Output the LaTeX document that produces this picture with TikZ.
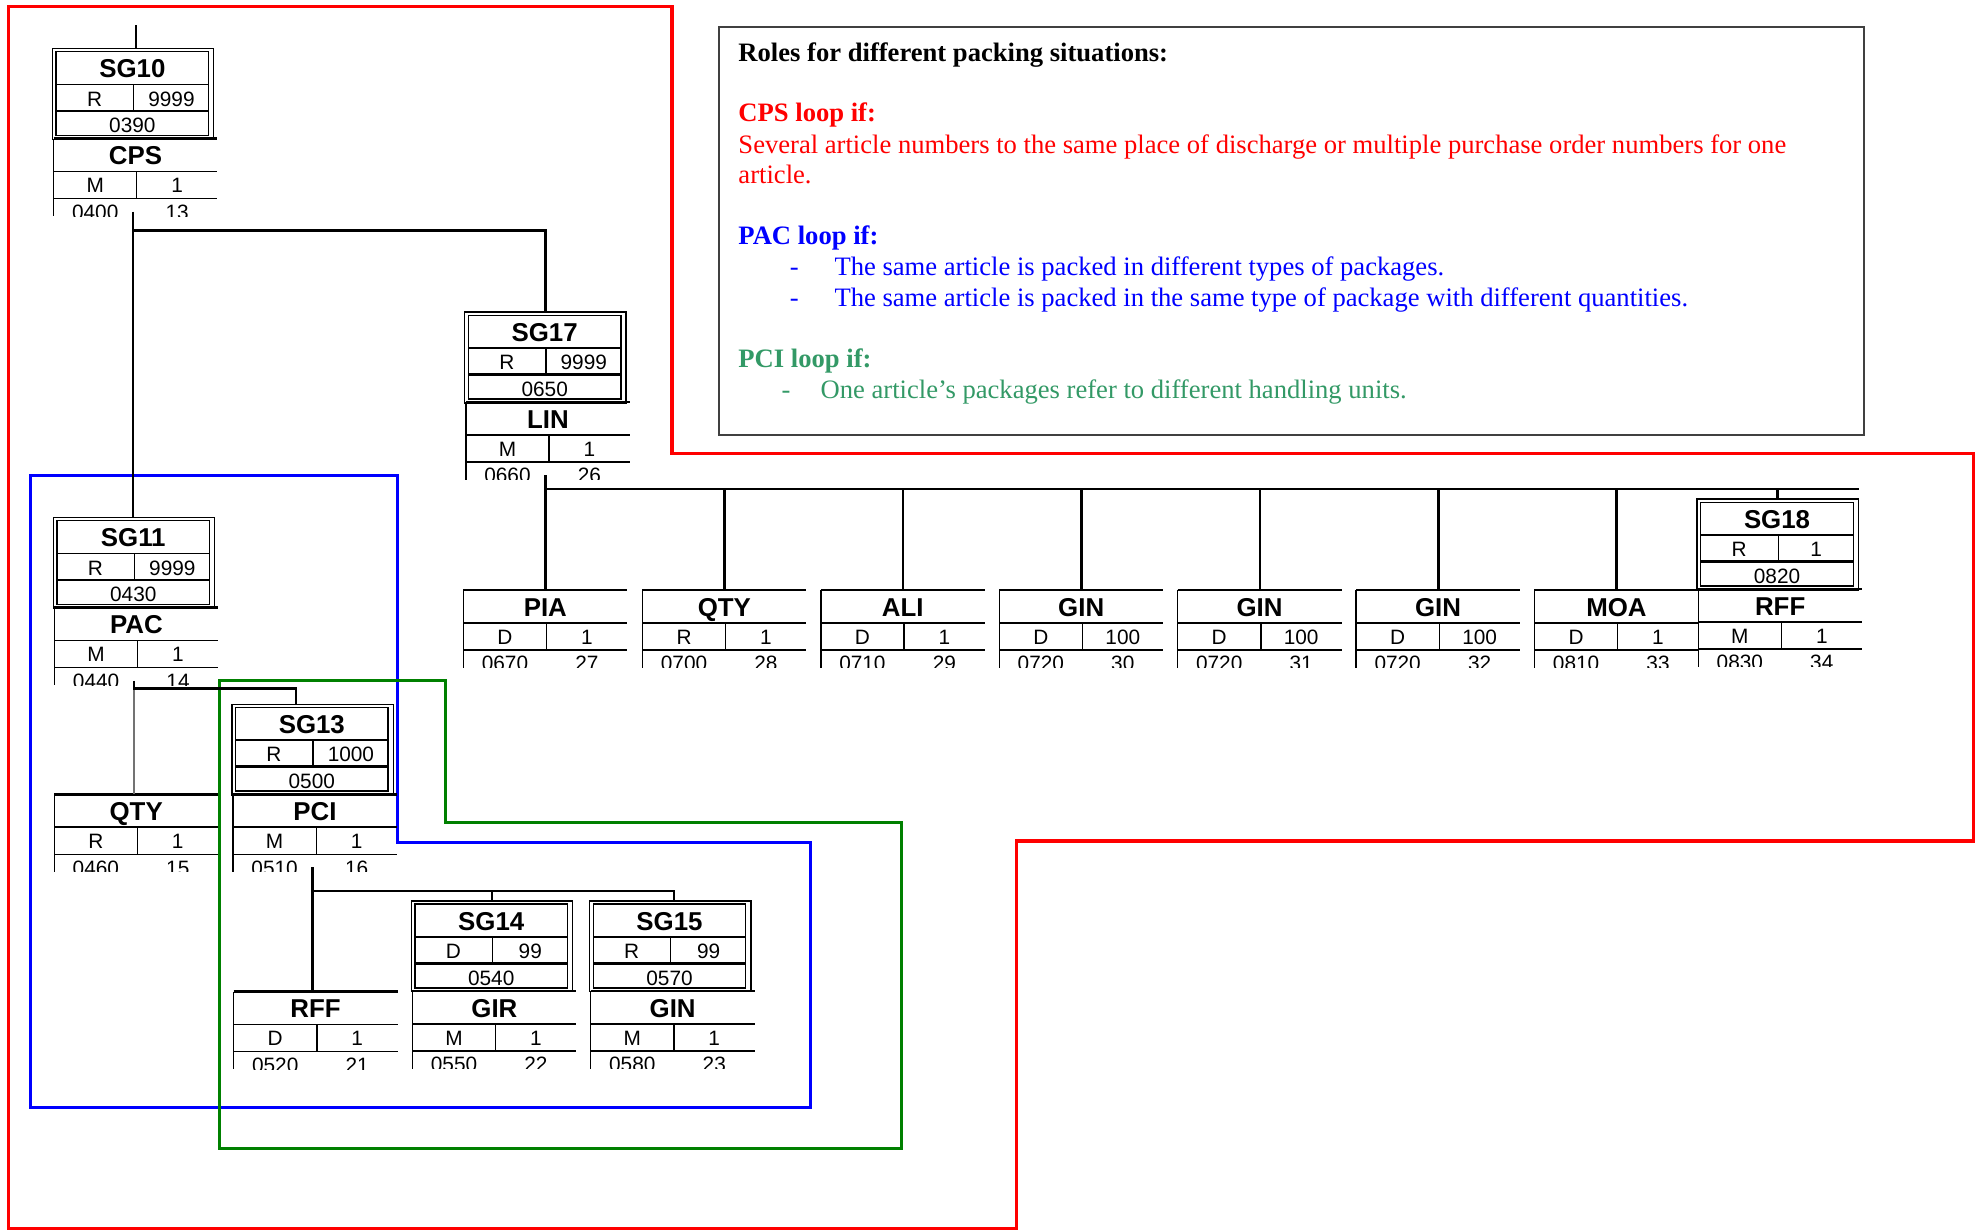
\documentclass[tikz,border=0pt]{standalone}
\usepackage{fontspec}
\setmainfont{Liberation Serif}
\setsansfont{Liberation Sans}

\definecolor{cpsred}{RGB}{255,0,0}
\definecolor{pacblue}{RGB}{0,0,255}
\definecolor{pciframe}{RGB}{0,128,0}
\definecolor{pcitext}{RGB}{51,153,102}

\tikzset{
	boxrule/.style={line width=1.1pt},
	heavyrule/.style={line width=2pt},
	link/.style={line width=2pt},
	faintlink/.style={line width=1.3pt, draw=black!55},
	segframe/.style={anchor=north west, minimum width=130pt, minimum height=62pt, inner sep=0pt},
	grpframe/.style={anchor=north west, draw, boxrule, minimum width=128pt, minimum height=72pt, inner sep=0pt},
	tagtext/.style={anchor=base, inner sep=0pt, font=\sffamily\bfseries\fontsize{20.5}{24}\selectfont},
	codetext/.style={anchor=base, inner sep=0pt, font=\sffamily\fontsize{16.5}{20}\selectfont},
	loopframe/.style={line width=2.5pt},
	notebox/.style={anchor=north west, draw=black!75, line width=1.5pt, minimum width=908pt, minimum height=324pt},
	notetext/.style={anchor=base west, inner sep=0pt, font=\fontsize{21.1}{24}\selectfont}
}

% segment: name, x, y, tag, status, repeat, position, level
\newcommand{\segbox}[8]{%
	\begin{scope}[shift={(#2,#3)}]
		\node[segframe] (#1) at (0,0) {};
		\draw[heavyrule] (0,0) -- (130,0);
		\draw[boxrule] (0,26) -- (130,26) (0,47.5) -- (130,47.5) (66,26) -- (66,47.5) (0,0) -- (0,61.5);
		\node[tagtext] (#1-tag) at (65,20.6) {#4};
		\node[codetext] (#1-st) at (33,42.8) {#5};
		\node[codetext] (#1-rp) at (98,42.8) {#6};
		\begin{scope}
			\clip (-1,0) rectangle (131,61.5);
			\node[codetext] (#1-pos) at (33,64) {#7};
			\node[codetext] (#1-lvl) at (98,64) {#8};
		\end{scope}
		\coordinate (#1-out) at (63,58);
	\end{scope}}

% group: name, x, y, tag, status, repeat, position
\newcommand{\grpbox}[7]{%
	\begin{scope}[shift={(#2,#3)}]
		\node[grpframe] (#1) at (0,0) {};
		\draw[boxrule] (3.5,3) rectangle (124.5,69.5);
		\draw[boxrule] (3.5,29) -- (124.5,29) (65,29) -- (65,50);
		\draw[heavyrule] (3.5,50) -- (124.5,50);
		\node[tagtext] (#1-tag) at (64,23.8) {#4};
		\node[codetext] (#1-st) at (34,46.2) {#5};
		\node[codetext] (#1-rp) at (95,46.2) {#6};
		\node[codetext] (#1-pos) at (64,67.3) {#7};
	\end{scope}}

\begin{document}
\begin{tikzpicture}[x=1pt, y=-1pt]
	\useasboundingbox (0,0) rectangle (1568,975);
	
	%Loops
	\draw[loopframe, cpsred] (7,5) -- (533,5) -- (533,360) -- (1565.5,360) -- (1565.5,667)
	-- (806,667) -- (806,974) -- (7,974) -- cycle;
	\draw[loopframe, pacblue] (24,377) -- (315,377) -- (315,668) -- (642.5,668) -- (642.5,878.5)
	-- (24,878.5) -- cycle;
	\draw[loopframe, pciframe] (174,539.5) -- (353,539.5) -- (353,652) -- (715,652) -- (715,911)
	-- (174,911) -- cycle;
	
	%Note
	\node[notebox] (roles) at (569.5,20.6) {};
	\node[notetext, font=\fontsize{21.1}{24}\selectfont\bfseries] (roles-head) at (585.5,48.9)
	{Roles for different packing situations:};
	\node[notetext, text=cpsred, font=\fontsize{21.1}{24}\selectfont\bfseries] (cps-head) at (585.5,96.5) {CPS loop if:};
	\node[notetext, text=cpsred] (cps-line1) at (585.5,122) {Several article numbers to the same place of discharge or multiple purchase order numbers for one};
	\node[notetext, text=cpsred] (cps-line2) at (585.5,145.4) {article.};
	\node[notetext, text=pacblue, font=\fontsize{21.1}{24}\selectfont\bfseries] (pac-head) at (585.5,194.3) {PAC loop if:};
	\node[notetext, text=pacblue] (pac-item1) at (626.2,218.3) {\makebox[35.5pt][l]{-}The same article is packed in different types of packages.};
	\node[notetext, text=pacblue] (pac-item2) at (626.2,242.7) {\makebox[35.5pt][l]{-}The same article is packed in the same type of package with different quantities.};
	\node[notetext, text=pcitext, font=\fontsize{21.1}{24}\selectfont\bfseries] (pci-head) at (585.5,291.6) {PCI loop if:};
	\node[notetext, text=pcitext] (pci-item1) at (619.7,315.9) {\makebox[31pt][l]{-}One article’s packages refer to different handling units.};
	
	%Groups and segments
	\grpbox{sg10}{41}{38}{SG10}{R}{9999}{0390}
	\segbox{cps}{42.5}{110}{CPS}{M}{1}{0400}{13}
	\grpbox{sg17}{368}{247}{SG17}{R}{9999}{0650}
	\segbox{lin}{369.5}{319}{LIN}{M}{1}{0660}{26}
	\grpbox{sg11}{41.7}{410}{SG11}{R}{9999}{0430}
	\segbox{pac}{43.2}{482}{PAC}{M}{1}{0440}{14}
	\segbox{qtya}{43}{630}{QTY}{R}{1}{0460}{15}
	\grpbox{sg13}{183.3}{558}{SG13}{R}{1000}{0500}
	\segbox{pci}{184.8}{630}{PCI}{M}{1}{0510}{16}
	\segbox{rffa}{185.3}{786.4}{RFF}{D}{1}{0520}{21}
	\grpbox{sg14}{325.6}{714}{SG14}{D}{99}{0540}
	\segbox{gir}{327.1}{786}{GIR}{M}{1}{0550}{22}
	\grpbox{sg15}{467}{714}{SG15}{R}{99}{0570}
	\segbox{ginx}{468.5}{786}{GIN}{M}{1}{0580}{23}
	\segbox{pia}{367.5}{468}{PIA}{D}{1}{0670}{27}
	\segbox{qtyb}{509.5}{468}{QTY}{R}{1}{0700}{28}
	\segbox{ali}{651}{468}{ALI}{D}{1}{0710}{29}
	\segbox{gina}{792.5}{468}{GIN}{D}{100}{0720}{30}
	\segbox{ginb}{934}{468}{GIN}{D}{100}{0720}{31}
	\segbox{ginc}{1075.5}{468}{GIN}{D}{100}{0720}{32}
	\segbox{moa}{1217}{468}{MOA}{D}{1}{0810}{33}
	\grpbox{sg18}{1345.4}{395.3}{SG18}{R}{1}{0820}
	\segbox{rffb}{1346.9}{467.3}{RFF}{M}{1}{0830}{34}
	
	%Links
	\coordinate (entry) at (108,20);
	\draw[link] (entry) -- (entry |- sg10.north);
	\draw[link] (cps-out) -- ++(0,15) -| (sg17.north);
	\draw[link] (cps-out) -- (cps-out |- sg11.north);
	\draw[faintlink] (pac-out) -- (pac-out |- qtya.north);
	\draw[link] (pac-out) -- ++(0,6) -| ([xshift=-13pt]sg13.north);
	\draw[link] (lin-out) -- ++(0,11) coordinate (lin-bus) -- (lin-bus -| sg18.north east);
	\foreach \s in {pia,qtyb,ali,gina,ginb,ginc,moa,sg18}
	\draw[link] (\s.north) -- (\s.north |- lin-bus);
	\draw[link] (pci-out) -- (pci-out |- rffa.north);
	\draw[link] (pci-out) -- ++(0,18.5) coordinate (pci-bus) -| ([xshift=3pt]sg15.north);
	\draw[link] (sg14.north) -- (sg14.north |- pci-bus);
	
\end{tikzpicture}
\end{document}
